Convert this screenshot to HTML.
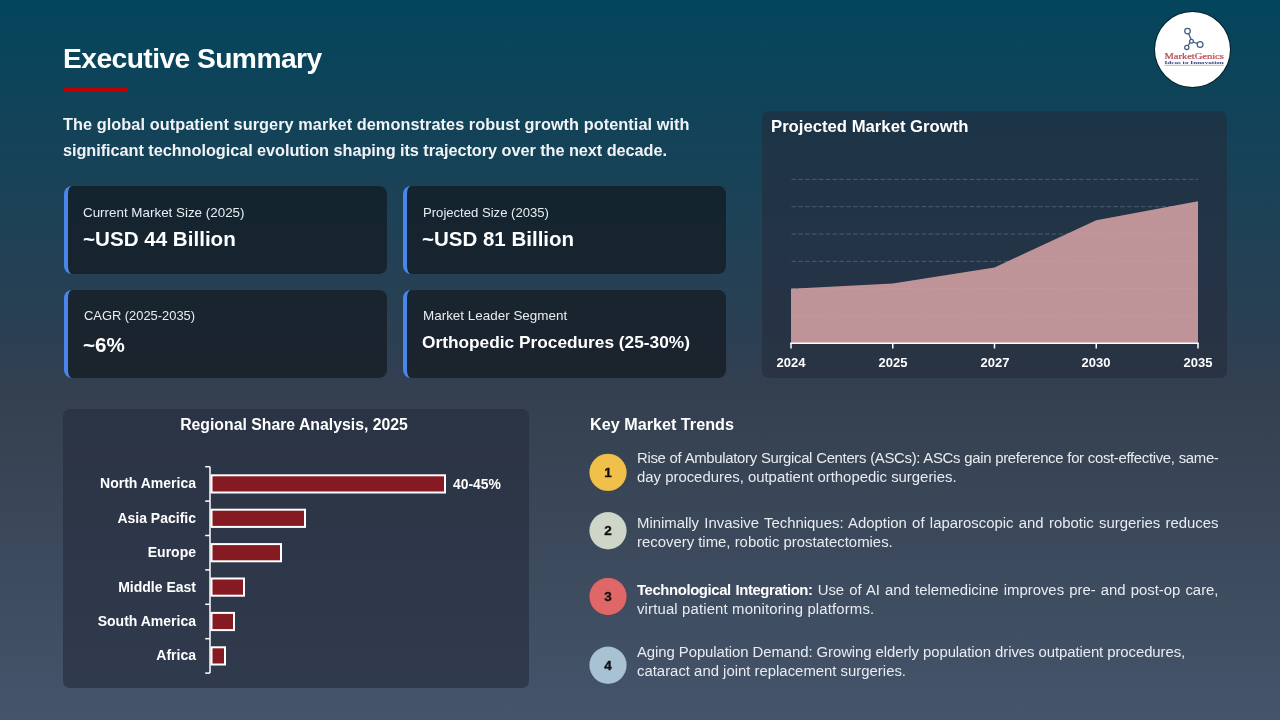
<!DOCTYPE html>
<html><head><meta charset="utf-8"><title>Executive Summary</title>
<style>
html,body{margin:0;padding:0}
body{width:1280px;height:720px;overflow:hidden;position:relative;font-family:"Liberation Sans",sans-serif;
background:linear-gradient(to bottom,#03455C 0%,#2F3F52 50%,#34404F 55%,#45546B 100%)}
.t{position:absolute;white-space:nowrap;line-height:1;will-change:transform}
.c{text-align:center}
.r{text-align:right}
.j{text-align:justify;text-align-last:justify}
.card{position:absolute;box-sizing:border-box;border-left:4px solid #4A86EA;border-radius:8px;background:rgba(16,22,28,0.66)}
.panel{position:absolute;border-radius:7px;background:rgba(36,43,60,0.6)}
</style></head><body>
<div class="t " style="left:62.50px;top:44.27px;font-size:28.20px;font-weight:700;color:#ffffff;letter-spacing:-0.55px">Executive Summary</div>
<div style="position:absolute;left:64px;top:88px;width:64px;height:4px;background:#C00000"></div>
<div class="t " style="left:62.50px;top:116.35px;font-size:16.30px;font-weight:700;color:#F1F4F7;letter-spacing:0.065px">The global outpatient surgery market demonstrates robust growth potential with</div>
<div class="t " style="left:62.50px;top:142.35px;font-size:16.30px;font-weight:700;color:#F1F4F7;letter-spacing:-0.05px">significant technological evolution shaping its trajectory over the next decade.</div>
<div class="card" style="left:64px;top:186px;width:323px;height:88px"></div>
<div class="card" style="left:403px;top:186px;width:323px;height:88px"></div>
<div class="card" style="left:64px;top:290px;width:323px;height:88px"></div>
<div class="card" style="left:403px;top:290px;width:323px;height:88px"></div>
<div class="t " style="left:83.00px;top:206.05px;font-size:13.40px;color:#E9EDF1;">Current Market Size (2025)</div>
<div class="t " style="left:83.00px;top:229.06px;font-size:20.60px;font-weight:700;color:#fff;">~USD 44 Billion</div>
<div class="t " style="left:423.00px;top:206.11px;font-size:13.10px;color:#E9EDF1;">Projected Size (2035)</div>
<div class="t " style="left:422.00px;top:229.04px;font-size:20.50px;font-weight:700;color:#fff;">~USD 81 Billion</div>
<div class="t " style="left:84.00px;top:309.78px;font-size:12.90px;color:#E9EDF1;">CAGR (2025-2035)</div>
<div class="t " style="left:83.00px;top:335.06px;font-size:20.60px;font-weight:700;color:#fff;">~6%</div>
<div class="t " style="left:423.00px;top:309.01px;font-size:13.45px;color:#E9EDF1;">Market Leader Segment</div>
<div class="t " style="left:422.00px;top:333.95px;font-size:17.30px;font-weight:700;color:#fff;">Orthopedic Procedures (25-30%)</div>
<div class="panel" style="left:762px;top:111px;width:465px;height:267px"></div>
<div class="t " style="left:771.00px;top:118.66px;font-size:16.70px;font-weight:700;color:#fff;">Projected Market Growth</div>
<div class="panel" style="left:63px;top:409px;width:465.5px;height:279px"></div>
<svg style="position:absolute;left:0;top:0" width="1280" height="720"><line x1="791.5" y1="179.4" x2="1198" y2="179.4" stroke="rgba(160,178,200,0.33)" stroke-width="1" stroke-dasharray="4.5,2.35"/><line x1="791.5" y1="206.7" x2="1198" y2="206.7" stroke="rgba(160,178,200,0.33)" stroke-width="1" stroke-dasharray="4.5,2.35"/><line x1="791.5" y1="234.0" x2="1198" y2="234.0" stroke="rgba(160,178,200,0.33)" stroke-width="1" stroke-dasharray="4.5,2.35"/><line x1="791.5" y1="261.3" x2="1198" y2="261.3" stroke="rgba(160,178,200,0.33)" stroke-width="1" stroke-dasharray="4.5,2.35"/><line x1="791.5" y1="288.6" x2="1198" y2="288.6" stroke="rgba(160,178,200,0.33)" stroke-width="1" stroke-dasharray="4.5,2.35"/><line x1="791.5" y1="315.9" x2="1198" y2="315.9" stroke="rgba(160,178,200,0.33)" stroke-width="1" stroke-dasharray="4.5,2.35"/><polygon points="791,288.8 892.75,283.4 994.5,267.4 1096.25,220.2 1198,201.3 1198,343 791,343" fill="rgb(216,164,166)" fill-opacity="0.86"/><line x1="790.25" y1="343.25" x2="1198.75" y2="343.25" stroke="#fff" stroke-width="1.5"/><line x1="791" y1="343" x2="791" y2="348.5" stroke="#fff" stroke-width="1.5"/><line x1="892.75" y1="343" x2="892.75" y2="348.5" stroke="#fff" stroke-width="1.5"/><line x1="994.5" y1="343" x2="994.5" y2="348.5" stroke="#fff" stroke-width="1.5"/><line x1="1096.25" y1="343" x2="1096.25" y2="348.5" stroke="#fff" stroke-width="1.5"/><line x1="1198" y1="343" x2="1198" y2="348.5" stroke="#fff" stroke-width="1.5"/><line x1="210" y1="466.7" x2="210" y2="673.0999999999999" stroke="#fff" stroke-width="1.5"/><line x1="205.2" y1="466.70" x2="210" y2="466.70" stroke="#fff" stroke-width="1.5"/><line x1="205.2" y1="501.10" x2="210" y2="501.10" stroke="#fff" stroke-width="1.5"/><line x1="205.2" y1="535.50" x2="210" y2="535.50" stroke="#fff" stroke-width="1.5"/><line x1="205.2" y1="569.90" x2="210" y2="569.90" stroke="#fff" stroke-width="1.5"/><line x1="205.2" y1="604.30" x2="210" y2="604.30" stroke="#fff" stroke-width="1.5"/><line x1="205.2" y1="638.70" x2="210" y2="638.70" stroke="#fff" stroke-width="1.5"/><line x1="205.2" y1="673.10" x2="210" y2="673.10" stroke="#fff" stroke-width="1.5"/><rect x="211.5" y="475.30" width="233.50" height="17.2" fill="#861A23" stroke="#fff" stroke-width="2"/><rect x="211.5" y="509.70" width="93.50" height="17.2" fill="#861A23" stroke="#fff" stroke-width="2"/><rect x="211.5" y="544.10" width="69.50" height="17.2" fill="#861A23" stroke="#fff" stroke-width="2"/><rect x="211.5" y="578.50" width="32.50" height="17.2" fill="#861A23" stroke="#fff" stroke-width="2"/><rect x="211.5" y="612.90" width="22.50" height="17.2" fill="#861A23" stroke="#fff" stroke-width="2"/><rect x="211.5" y="647.30" width="13.50" height="17.2" fill="#861A23" stroke="#fff" stroke-width="2"/><circle cx="608" cy="472.4" r="18.7" fill="#F1C04B" stroke="rgba(0,0,0,0.12)" stroke-width="0.8"/><circle cx="608" cy="530.7" r="18.7" fill="#CED6CA" stroke="rgba(0,0,0,0.12)" stroke-width="0.8"/><circle cx="608" cy="596.5" r="18.7" fill="#E06767" stroke="rgba(0,0,0,0.12)" stroke-width="0.8"/><circle cx="608" cy="665.2" r="18.7" fill="#A8C1D3" stroke="rgba(0,0,0,0.12)" stroke-width="0.8"/></svg>
<div class="t c" style="left:641.00px;top:356.19px;width:300px;font-size:13.00px;font-weight:700;color:#fff;">2024</div>
<div class="t c" style="left:742.75px;top:356.19px;width:300px;font-size:13.00px;font-weight:700;color:#fff;">2025</div>
<div class="t c" style="left:844.50px;top:356.19px;width:300px;font-size:13.00px;font-weight:700;color:#fff;">2027</div>
<div class="t c" style="left:946.25px;top:356.19px;width:300px;font-size:13.00px;font-weight:700;color:#fff;">2030</div>
<div class="t c" style="left:1048.00px;top:356.19px;width:300px;font-size:13.00px;font-weight:700;color:#fff;">2035</div>
<div class="t c" style="left:143.80px;top:417.02px;width:300px;font-size:15.80px;font-weight:700;color:#fff;">Regional Share Analysis, 2025</div>
<div class="t r" style="left:-104.00px;top:476.30px;width:300px;font-size:14.00px;font-weight:700;color:#fff;">North America</div>
<div class="t r" style="left:-104.00px;top:511.30px;width:300px;font-size:14.00px;font-weight:700;color:#fff;">Asia Pacific</div>
<div class="t r" style="left:-104.00px;top:545.30px;width:300px;font-size:14.00px;font-weight:700;color:#fff;">Europe</div>
<div class="t r" style="left:-104.00px;top:580.30px;width:300px;font-size:14.00px;font-weight:700;color:#fff;">Middle East</div>
<div class="t r" style="left:-104.00px;top:614.30px;width:300px;font-size:14.00px;font-weight:700;color:#fff;">South America</div>
<div class="t r" style="left:-104.00px;top:648.30px;width:300px;font-size:14.00px;font-weight:700;color:#fff;">Africa</div>
<div class="t " style="left:453.00px;top:477.83px;font-size:13.90px;font-weight:700;color:#fff;">40-45%</div>
<div class="t " style="left:590.00px;top:416.38px;font-size:16.20px;font-weight:700;color:#fff;">Key Market Trends</div>
<div class="t c" style="left:458.00px;top:466.07px;width:300px;font-size:13.50px;font-weight:700;color:#111;-webkit-text-stroke:0.35px #111">1</div>
<div class="t c" style="left:458.00px;top:524.07px;width:300px;font-size:13.50px;font-weight:700;color:#111;-webkit-text-stroke:0.35px #111">2</div>
<div class="t c" style="left:458.00px;top:590.07px;width:300px;font-size:13.50px;font-weight:700;color:#111;-webkit-text-stroke:0.35px #111">3</div>
<div class="t c" style="left:458.00px;top:659.07px;width:300px;font-size:13.50px;font-weight:700;color:#111;-webkit-text-stroke:0.35px #111">4</div>
<div class="t j" style="left:636.50px;top:450.98px;width:581.50px;font-size:14.90px;color:#E8ECF0;letter-spacing:-0.32px">Rise of Ambulatory Surgical Centers (ASCs): ASCs gain preference for cost-effective, same-</div>
<div class="t " style="left:636.50px;top:469.98px;font-size:14.90px;color:#E8ECF0;">day procedures, outpatient orthopedic surgeries.</div>
<div class="t j" style="left:636.50px;top:515.98px;width:581.50px;font-size:14.90px;color:#E8ECF0;">Minimally Invasive Techniques: Adoption of laparoscopic and robotic surgeries reduces</div>
<div class="t " style="left:636.50px;top:534.98px;font-size:14.90px;color:#E8ECF0;">recovery time, robotic prostatectomies.</div>
<div class="t j" style="left:636.50px;top:582.98px;width:581.50px;font-size:14.90px;color:#E8ECF0;"><b style="color:#fff;letter-spacing:-0.4px">Technological Integration:</b> Use of AI and telemedicine improves pre- and post-op care,</div>
<div class="t " style="left:636.50px;top:601.98px;font-size:14.90px;color:#E8ECF0;letter-spacing:0.15px">virtual patient monitoring platforms.</div>
<div class="t " style="left:637.00px;top:644.98px;font-size:14.90px;color:#E8ECF0;letter-spacing:-0.07px">Aging Population Demand: Growing elderly population drives outpatient procedures,</div>
<div class="t " style="left:637.00px;top:663.98px;font-size:14.90px;color:#E8ECF0;">cataract and joint replacement surgeries.</div>
<div style="position:absolute;left:1155.3px;top:11.6px;width:75px;height:75px;border-radius:50%;background:#fff;box-shadow:0 0 0 1px rgba(0,0,0,0.55)"></div>
<svg style="position:absolute;left:1150px;top:8px" width="85" height="85" viewBox="1150 8 85 85">
<g stroke="#435B82" stroke-width="1.25" fill="none">
<line x1="1188.6" y1="33.7" x2="1191.2" y2="39.5"/>
<line x1="1193" y1="42" x2="1197.5" y2="43.6"/>
<line x1="1189.9" y1="42.6" x2="1188.2" y2="45.6"/>
<circle cx="1187.5" cy="31.1" r="2.8"/>
<circle cx="1200.1" cy="44.4" r="2.9"/>
<circle cx="1186.8" cy="47.4" r="2.1"/>
<circle cx="1191.5" cy="41.3" r="1.9"/>
</g>
<text x="1164.5" y="58.6" font-family="Liberation Serif" font-size="7.6" fill="#B5434F" stroke="#B5434F" stroke-width="0.18" textLength="59.3" lengthAdjust="spacingAndGlyphs">MarketGenics</text>
<text x="1164.5" y="64" font-family="Liberation Serif" font-weight="700" font-size="4.2" fill="#2E3C8A" textLength="59.3" lengthAdjust="spacingAndGlyphs">Ideas to Innovation</text>
<line x1="1164.5" y1="65.3" x2="1223.8" y2="65.3" stroke="#8A7FB5" stroke-width="0.6"/>
</svg>
</body></html>
